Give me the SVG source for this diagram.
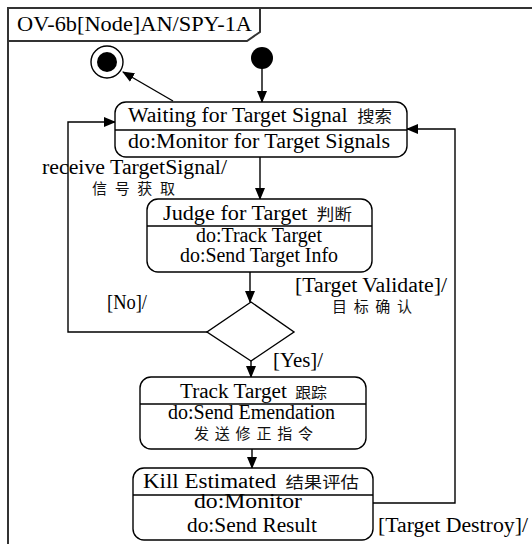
<svg xmlns="http://www.w3.org/2000/svg" width="532" height="544" viewBox="0 0 532 544">
<defs>
<marker id="ah" markerWidth="12" markerHeight="10" refX="11" refY="5" orient="auto" markerUnits="userSpaceOnUse">
<path d="M0,0 L12,5 L0,10 Z" fill="#000"/>
</marker>
<style>
text{font-family:"Liberation Serif","Noto Sans CJK SC",serif;font-size:20px;fill:#000}
.c{font-family:"Noto Sans CJK SC",sans-serif;font-size:16px;fill:#111}
.s{font-size:15px}
.box{fill:#fff;stroke:#000;stroke-width:1.4}
.ln{fill:none;stroke:#000;stroke-width:1.4}
.fr{fill:none;stroke:#333;stroke-width:2}
</style>
</defs>
<rect width="532" height="544" fill="#fff"/>
<g id="frame">
<path class="fr" d="M8,544 L8,8 L532,8"/>
<path class="fr" d="M8,41 L247,41 L260,32 L260,8"/>
<text x="17" y="31" textLength="235" lengthAdjust="spacingAndGlyphs">OV-6b[Node]AN/SPY-1A</text>
</g>
<g id="connectors">
<path class="ln" d="M262,66 L262,102" marker-end="url(#ah)"/>
<path class="ln" d="M173,101 L123,72" marker-end="url(#ah)"/>
<path class="ln" d="M260,157 L260,199" marker-end="url(#ah)"/>
<path class="ln" d="M250,272 L250,302" marker-end="url(#ah)"/>
<path class="ln" d="M207,332 L68,332 L68,122 L115,122" marker-end="url(#ah)"/>
<path class="ln" d="M251,361 L251,377" marker-end="url(#ah)"/>
<path class="ln" d="M252,449 L252,468" marker-end="url(#ah)"/>
<path class="ln" d="M373,503 L455,503 L455,129 L407,129" marker-end="url(#ah)"/>
<text x="42" y="174" textLength="185" lengthAdjust="spacingAndGlyphs">receive TargetSignal/</text>
<text x="92" y="194" class="c s" textLength="83" lengthAdjust="spacing">信号获取</text>
<text x="107" y="309" textLength="40" lengthAdjust="spacingAndGlyphs">[No]/</text>
<text x="295" y="292" textLength="152" lengthAdjust="spacingAndGlyphs">[Target Validate]/</text>
<text x="332" y="312" class="c s" textLength="80" lengthAdjust="spacing">目标确认</text>
<text x="273" y="367" textLength="50" lengthAdjust="spacingAndGlyphs">[Yes]/</text>
<text x="378" y="532" textLength="150" lengthAdjust="spacingAndGlyphs">[Target Destroy]/</text>
</g>
<g id="initial">
<circle cx="262" cy="58" r="11" fill="#000"/>
</g>
<g id="final">
<circle cx="107" cy="62" r="16" fill="#fff" stroke="#000" stroke-width="1.4"/>
<circle cx="107" cy="62" r="10" fill="#000"/>
</g>
<g id="waiting">
<rect class="box" x="115" y="102" width="292" height="55" rx="11"/>
<line class="ln" x1="115" y1="130" x2="407" y2="130"/>
<text x="128" y="122" textLength="264" lengthAdjust="spacingAndGlyphs">Waiting for Target Signal <tspan class="c" dx="4">搜索</tspan></text>
<text x="128" y="148" textLength="262" lengthAdjust="spacingAndGlyphs">do:Monitor for Target Signals</text>
</g>
<g id="judge">
<rect class="box" x="147" y="199" width="225" height="73" rx="11"/>
<line class="ln" x1="147" y1="226" x2="372" y2="226"/>
<text x="163" y="220" textLength="189" lengthAdjust="spacingAndGlyphs">Judge for Target <tspan class="c" dx="3">判断</tspan></text>
<text x="196" y="242" textLength="126" lengthAdjust="spacingAndGlyphs">do:Track Target</text>
<text x="180" y="262" textLength="158" lengthAdjust="spacingAndGlyphs">do:Send Target Info</text>
</g>
<g id="decision">
<polygon class="box" points="251,302 294,332 251,361 207,332"/>
</g>
<g id="track">
<rect class="box" x="140" y="377" width="226" height="72" rx="11"/>
<line class="ln" x1="140" y1="404" x2="366" y2="404"/>
<text x="180" y="398" textLength="147" lengthAdjust="spacingAndGlyphs">Track Target <tspan class="c s" dx="3">跟踪</tspan></text>
<text x="168" y="419" textLength="167" lengthAdjust="spacingAndGlyphs">do:Send Emendation</text>
<text x="194" y="439" class="c s" textLength="119" lengthAdjust="spacing">发送修正指令</text>
</g>
<g id="kill">
<rect class="box" x="133" y="468" width="240" height="72" rx="11"/>
<line class="ln" x1="133" y1="495" x2="373" y2="495"/>
<text x="143" y="488" textLength="216" lengthAdjust="spacingAndGlyphs">Kill Estimated <tspan class="c" dx="3">结果评估</tspan></text>
<text x="194" y="508" textLength="108" lengthAdjust="spacingAndGlyphs">do:Monitor</text>
<text x="187" y="532" textLength="130" lengthAdjust="spacingAndGlyphs">do:Send Result</text>
</g>
</svg>
